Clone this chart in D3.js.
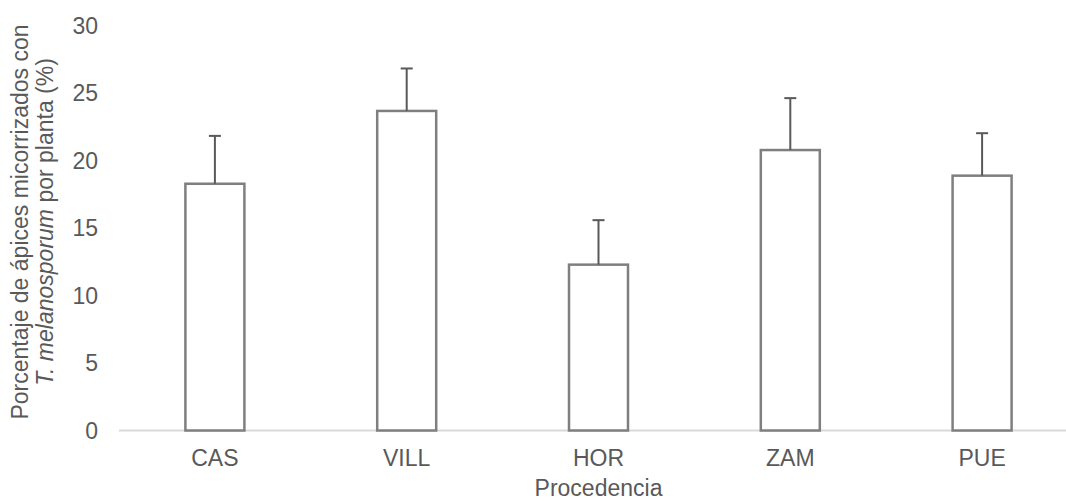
<!DOCTYPE html>
<html>
<head>
<meta charset="utf-8">
<script src="https://cdn.jsdelivr.net/npm/d3@7"></script>
<style>
  html, body { margin: 0; padding: 0; background: #fff; }
  svg { display: block; font-family: "Liberation Sans", Arial, sans-serif; }
</style>
</head>
<body>
<svg id="chart" width="1066" height="502"></svg>
<script>
// Provenance sites and mean % of mycorrhized root tips per plant
const categories = ["CAS", "VILL", "HOR", "ZAM", "PUE"];
const values = [18.3, 23.7, 12.3, 20.8, 18.9];
const errors = [3.55, 3.15, 3.3, 3.85, 3.15];
const yTicks = [0, 5, 10, 15, 20, 25, 30];

const svg = d3.select("#chart");
const textColor = "#595959";

const x = d3.scaleBand().domain(categories).range([119, 1078]).paddingInner(0).paddingOuter(0);
const y = d3.scaleLinear().domain([0, 30]).range([430.5, 26]);

const barW = 59;

// y tick labels
svg.append("g")
  .selectAll("text")
  .data(yTicks)
  .join("text")
  .attr("x", 98)
  .attr("y", d => y(d))
  .attr("dy", "0.35em")
  .attr("text-anchor", "end")
  .attr("fill", textColor)
  .attr("font-size", 23)
  .text(d => d);

// baseline
svg.append("line")
  .attr("x1", 119).attr("x2", 1078)
  .attr("y1", y(0)).attr("y2", y(0))
  .attr("stroke", "#d9d9d9")
  .attr("stroke-width", 2);

// bars
svg.append("g")
  .selectAll("rect")
  .data(categories)
  .join("rect")
  .attr("x", d => x(d) + x.bandwidth() / 2 - barW / 2)
  .attr("width", barW)
  .attr("y", (d, i) => y(values[i]))
  .attr("height", (d, i) => y(0) - y(values[i]))
  .attr("fill", "#fff")
  .attr("stroke", "#7f7f7f")
  .attr("stroke-width", 2.5);

// upper error bars
const eg = svg.append("g").attr("stroke", "#595959").attr("stroke-width", 2);
categories.forEach((c, i) => {
  const cx = x(c) + x.bandwidth() / 2;
  eg.append("line")
    .attr("x1", cx).attr("x2", cx)
    .attr("y1", y(values[i]))
    .attr("y2", y(values[i] + errors[i]));
  eg.append("line")
    .attr("x1", cx - 6).attr("x2", cx + 6)
    .attr("y1", y(values[i] + errors[i]))
    .attr("y2", y(values[i] + errors[i]));
});

// category labels
svg.append("g")
  .selectAll("text")
  .data(categories)
  .join("text")
  .attr("x", d => x(d) + x.bandwidth() / 2)
  .attr("y", 466)
  .attr("text-anchor", "middle")
  .attr("fill", textColor)
  .attr("font-size", 23)
  .text(d => d);

// x axis title
svg.append("text")
  .attr("x", 598.5)
  .attr("y", 496)
  .attr("text-anchor", "middle")
  .attr("fill", textColor)
  .attr("font-size", 23)
  .text("Procedencia");

// y axis title (two lines, second partly italic)
const yt = svg.append("text")
  .attr("transform", "translate(0,222) rotate(-90)")
  .attr("text-anchor", "middle")
  .attr("fill", textColor)
  .attr("font-size", 23);
yt.append("tspan").attr("x", 0).attr("y", 28).text("Porcentaje de ápices micorrizados con");
const l2 = yt.append("tspan").attr("x", 0).attr("y", 53);
l2.append("tspan").attr("font-style", "italic").text("T. melanosporum");
l2.append("tspan").text(" por planta (%)");
</script>
</body>
</html>
